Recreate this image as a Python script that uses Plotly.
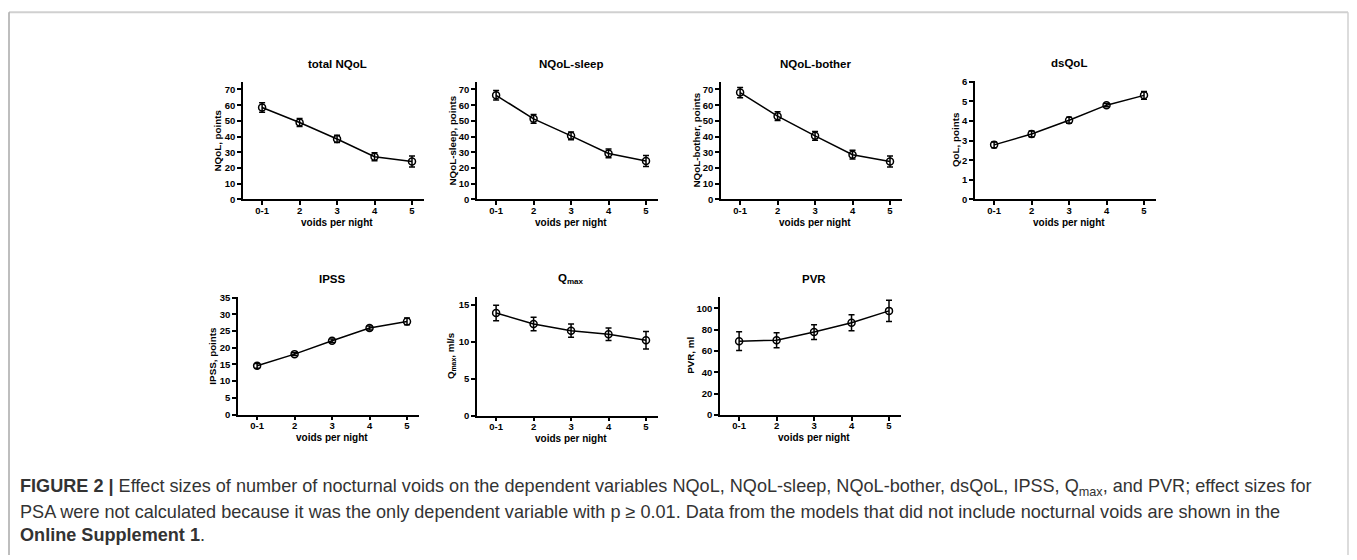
import plotly.graph_objects as go

W, H = 1357, 560

voids = ["0-1", "2", "3", "4", "5"]
xpos = [1, 2, 3, 4, 5]

total_nqol = [58.5, 49.0, 38.5, 27.2, 24.2]
total_nqol_err = [3.0, 2.5, 2.3, 2.5, 3.5]
nqol_sleep = [66.3, 51.3, 40.5, 29.3, 24.5]
nqol_sleep_err = [3.0, 2.8, 2.5, 2.8, 3.5]
nqol_bother = [68.0, 53.0, 40.5, 28.5, 24.2]
nqol_bother_err = [3.2, 2.8, 2.8, 2.8, 3.5]
dsqol = [2.78, 3.33, 4.03, 4.80, 5.30]
dsqol_err = [0.15, 0.15, 0.15, 0.08, 0.2]
ipss = [14.6, 18.1, 22.1, 25.9, 27.9]
ipss_err = [0.7, 0.4, 0.5, 0.6, 1.0]
qmax = [13.9, 12.4, 11.5, 11.0, 10.2]
qmax_err = [1.05, 0.9, 0.9, 0.85, 1.2]
pvr = [69.3, 70.2, 77.8, 86.5, 97.7]
pvr_err = [8.8, 7.0, 7.0, 7.5, 10.0]

panels = [
    # title, ytitle, y, err, yrange, ticks, axis-left px, y bottom px, y top px, ytitle offset px
    ("<b>total NQoL</b>", "<b>NQoL, points</b>", total_nqol, total_nqol_err, [0, 75], list(range(0, 71, 10)), 243, 198, 78, 25),
    ("<b>NQoL-sleep</b>", "<b>NQoL-sleep, points</b>", nqol_sleep, nqol_sleep_err, [0, 75], list(range(0, 71, 10)), 477, 198, 78, 24),
    ("<b>NQoL-bother</b>", "<b>NQoL-bother, points</b>", nqol_bother, nqol_bother_err, [0, 75], list(range(0, 71, 10)), 721, 198, 78, 24),
    ("<b>dsQoL</b>", "<b>QoL, points</b>", dsqol, dsqol_err, [0, 6.05], list(range(0, 7)), 975, 198, 77, 20),
    ("<b>IPSS</b>", "<b>IPSS, points</b>", ipss, ipss_err, [0, 35.3], list(range(0, 36, 5)), 238, 417, 297, 25),
    ("<b>Q<sub>max</sub></b>", "<b>Q<sub>max</sub>, ml/s</b>", qmax, qmax_err, [0, 16.1], [0, 5, 10, 15], 477, 418, 297, 26),
    ("<b>PVR</b>", "<b>PVR, ml</b>", pvr, pvr_err, [0, 111], list(range(0, 101, 20)), 720, 417.5, 297, 29),
]

FONT = "Liberation Sans, Arial, sans-serif"
fig = go.Figure()
annotations = []
PANEL_W = 181
XR = [0.49, 5.32]

for i, (title, ytitle, yv, ye, yr, yt, axl, yb, ytop, yoff) in enumerate(panels):
    n = "" if i == 0 else str(i + 1)
    fig.add_trace(go.Scatter(
        x=xpos, y=yv,
        error_y=dict(type="data", array=ye, visible=True, color="black", thickness=1.5, width=3),
        mode="lines+markers",
        line=dict(color="black", width=1.5),
        marker=dict(symbol="circle-open", size=7, color="black", line=dict(width=1.5, color="black")),
        xaxis="x" + n, yaxis="y" + n, showlegend=False,
    ))
    xd = [axl / W, (axl + PANEL_W) / W]
    yd = [1 - yb / H, 1 - ytop / H]
    common = dict(showline=True, linecolor="black", linewidth=1.5, ticks="outside",
                  ticklen=4, tickwidth=1.5, tickcolor="black", showgrid=False, zeroline=False,
                  tickfont=dict(family=FONT, size=9.5, color="black", weight="bold"))
    fig.update_layout(**{
        "xaxis" + n: dict(domain=xd, range=XR, tickvals=xpos, ticktext=voids,
                          anchor="y" + n, fixedrange=True, ticklabelstandoff=-3, **common),
        "yaxis" + n: dict(domain=yd, range=yr, tickvals=yt,
                          anchor="x" + n, fixedrange=True, **common),
    })
    xc = (axl + 19 + 75) / W
    annotations.append(dict(text=title, x=xc, y=1 - (ytop - 18) / H, xref="paper", yref="paper",
                            showarrow=False, xanchor="center", yanchor="middle",
                            font=dict(family=FONT, size=11.5, color="black")))
    annotations.append(dict(text="<b>voids per night</b>", x=xc, y=1 - (yb + 23) / H, xref="paper", yref="paper",
                            showarrow=False, xanchor="center", yanchor="middle",
                            font=dict(family=FONT, size=10, color="black")))
    annotations.append(dict(text=ytitle, x=(axl - yoff) / W, y=1 - ((yb + ytop) / 2) / H,
                            xref="paper", yref="paper", showarrow=False, textangle=-90,
                            xanchor="center", yanchor="middle",
                            font=dict(family=FONT, size=9.8, color="black")))

cap_font = dict(family=FONT, size=18.1, color="#333333")
captions = [
    ("<b>FIGURE 2 |</b> Effect sizes of number of nocturnal voids on the dependent variables NQoL, NQoL-sleep, "
     "NQoL-bother, dsQoL, IPSS, Q<sub>max</sub>, and PVR; effect sizes for", 491),
    ("PSA were not calculated because it was the only dependent variable with p \u2265 0.01. Data from the models "
     "that did not include nocturnal voids are shown in the", 516),
    ("<b>Online Supplement 1</b>.", 540),
]
for txt, ypx in captions:
    annotations.append(dict(text=txt, x=18 / W, y=1 - ypx / H, xref="paper", yref="paper",
                            showarrow=False, xanchor="left", yanchor="middle", align="left",
                            font=cap_font))

shapes = [
    dict(type="line", xref="paper", yref="paper", x0=9 / W, x1=1348 / W, y0=1 - 7.5 / H, y1=1 - 7.5 / H,
         line=dict(color="#d0d0d0", width=2)),
    dict(type="line", xref="paper", yref="paper", x0=9 / W, x1=9 / W, y0=1 - 7.5 / H, y1=0,
         line=dict(color="#a8a8a8", width=1.5)),
    dict(type="line", xref="paper", yref="paper", x0=1348 / W, x1=1348 / W, y0=1 - 7.5 / H, y1=0,
         line=dict(color="#d0d0d0", width=1.5)),
]

fig.update_layout(width=W, height=H, margin=dict(l=0, r=0, t=0, b=0),
                  paper_bgcolor="white", plot_bgcolor="white",
                  annotations=annotations, shapes=shapes,
                  font=dict(family=FONT, color="black"))

fig.write_html("out.html", config={"displayModeBar": False})
